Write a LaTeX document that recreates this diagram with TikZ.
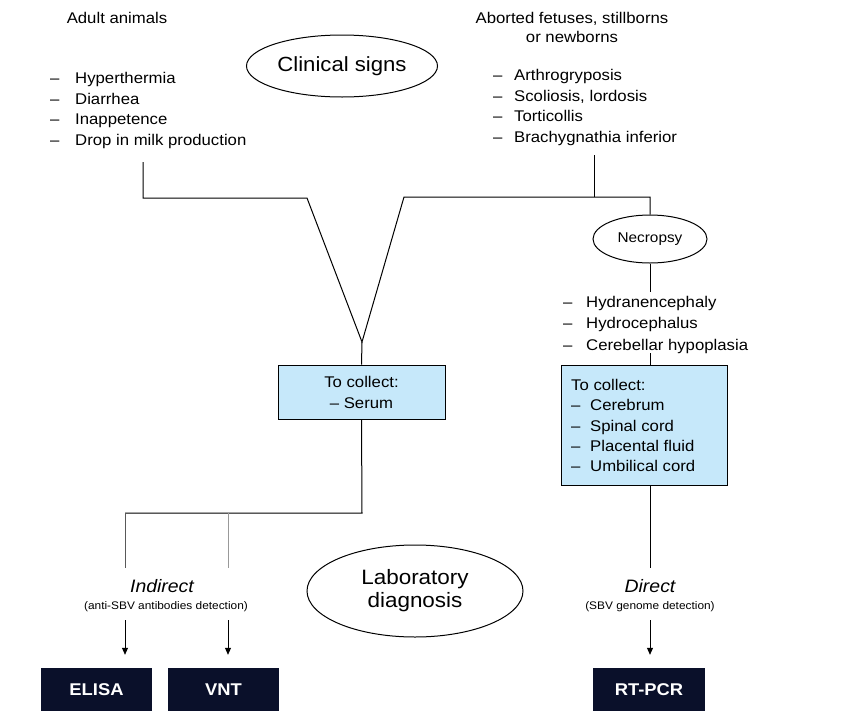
\documentclass[tikz,border=0pt]{standalone}
\usepackage{fontspec}
\setmainfont[FakeStretch=1.08]{Liberation Sans}
\usetikzlibrary{arrows.meta,shapes.geometric}
\definecolor{boxblue}{RGB}{198,232,250}
\definecolor{navy}{RGB}{10,16,42}
\begin{document}
\begin{tikzpicture}[x=1pt,y=-1pt,
  txt/.style={inner sep=0pt,font=\fontsize{15.5}{20.7}\selectfont},
  lst/.style={txt,align=left,anchor=north west},
  conn/.style={line width=1pt,black},
  oval/.style={ellipse,draw,line width=1pt,inner sep=0pt},
  collect/.style={draw,line width=1pt,fill=boxblue,inner sep=0pt},
  method/.style={fill=navy,text=white,font=\bfseries\fontsize{17}{20}\selectfont,inner sep=0pt,minimum height=44pt},
  arr/.style={-{Triangle[width=6pt,length=7pt]},line width=0.8pt},
  lab/.style={inner sep=0pt,font=\itshape\fontsize{18}{20}\selectfont},
  sub/.style={inner sep=0pt,font=\fontsize{11}{13}\selectfont}
]
\clip (0,0) rectangle (865,710);
\fill[white] (0,0) rectangle (865,710);

% top texts
\node[txt] (adult) at (117,18) {Adult animals};
\node[txt,align=center,font=\fontsize{15.5}{19}\selectfont] (abort) at (572,27.5) {Aborted fetuses, stillborns\\or newborns};
\node[oval,minimum width=191pt,minimum height=62pt,font=\fontsize{20.5}{24}\selectfont] (clinical) at (342,66) {Clinical signs};

\node[lst] (adultlist) at (50,72) {\makebox[25pt][l]{–}Hyperthermia\\\makebox[25pt][l]{–}Diarrhea\\\makebox[25pt][l]{–}Inappetence\\\makebox[25pt][l]{–}Drop in milk production};
\node[lst] (abortlist) at (493,69) {\makebox[21pt][l]{–}Arthrogryposis\\\makebox[21pt][l]{–}Scoliosis, lordosis\\\makebox[21pt][l]{–}Torticollis\\\makebox[21pt][l]{–}Brachygnathia inferior};

% necropsy branch
\node[oval,minimum width=114pt,minimum height=48pt,font=\fontsize{14.2}{17}\selectfont] (necropsy) at (650,239) {Necropsy};
\node[lst,font=\fontsize{15.5}{21.5}\selectfont] (necrlist) at (563,296) {\makebox[23pt][l]{–}Hydranencephaly\\\makebox[23pt][l]{–}Hydrocephalus\\\makebox[23pt][l]{–}Cerebellar hypoplasia};

% collect boxes
\node[collect,minimum width=167pt,minimum height=54pt,align=center,font=\fontsize{15.5}{21}\selectfont] (serum) at (361.5,392) {To collect:\\– Serum};
\node[collect,minimum width=166pt,minimum height=120pt] (organs) at (644,425) {};
\node[lst,font=\fontsize{15.5}{20.3}\selectfont] (organtxt) at (571,379) {To collect:\\\makebox[19pt][l]{–}Cerebrum\\\makebox[19pt][l]{–}Spinal cord\\\makebox[19pt][l]{–}Placental fluid\\\makebox[19pt][l]{–}Umbilical cord};

% laboratory
\node[oval,minimum width=216pt,minimum height=92pt,align=center,font=\fontsize{20.8}{23}\selectfont] (lab) at (415,591) {Laboratory\\diagnosis};
\node[lab] (indirect) at (162,586) {Indirect};
\node[sub] (indsub) at (166,607) {(anti-SBV antibodies detection)};
\node[lab] (direct) at (650,586) {Direct};
\node[sub] (dirsub) at (650,607) {(SBV genome detection)};

\node[method,minimum width=111pt] (elisa) at (96.5,690) {ELISA};
\node[method,minimum width=111pt] (vnt) at (223.5,690) {VNT};
\node[method,minimum width=112pt] (rtpcr) at (649,690) {RT-PCR};

% coordinates
\coordinate (a0) at (143,162);
\coordinate (a1) at (143,198);
\coordinate (vl) at (307,198);
\coordinate (apex) at (362,342);
\coordinate (vr) at (404,197);
\coordinate (b0) at (594,155);
\coordinate (b1) at (594,197);
\coordinate (nk) at (650,197);
\coordinate (n1) at (650,292);
\coordinate (n2) at (650,353);
\coordinate (sj) at (362,513);
\coordinate (e0) at (125,513);
\coordinate (e1) at (125,568);
\coordinate (v0) at (228,513);
\coordinate (v1) at (228,568);
\coordinate (ie1) at (125,620);
\coordinate (iv1) at (228,620);
\coordinate (d1) at (650,568);
\coordinate (id1) at (650,620);

% connectors
\draw[conn,line join=miter] (a0) -- (a1) -- (vl) -- (apex) -- (vr) -- (nk) -- (necropsy.north);
\draw[conn] (b0) -- (b1);
\draw[conn] (apex) -- (serum.north);
\draw[conn] (necropsy.south) -- (n1);
\draw[conn] (n2) -- (n2 |- organs.north);
\draw[conn] (serum.south) -- (sj) -- (e0);
\draw[line width=1pt,black!65] (e0) -- (e1);
\draw[line width=1pt,black!40] (v0) -- (v1);
\draw[conn] (d1 |- organs.south) -- (d1);
\draw[arr] (ie1) -- ([yshift=13pt]ie1 |- elisa.north);
\draw[arr] (iv1) -- ([yshift=13pt]iv1 |- vnt.north);
\draw[arr] (id1) -- ([yshift=13pt]id1 |- rtpcr.north);
\end{tikzpicture}
\end{document}
